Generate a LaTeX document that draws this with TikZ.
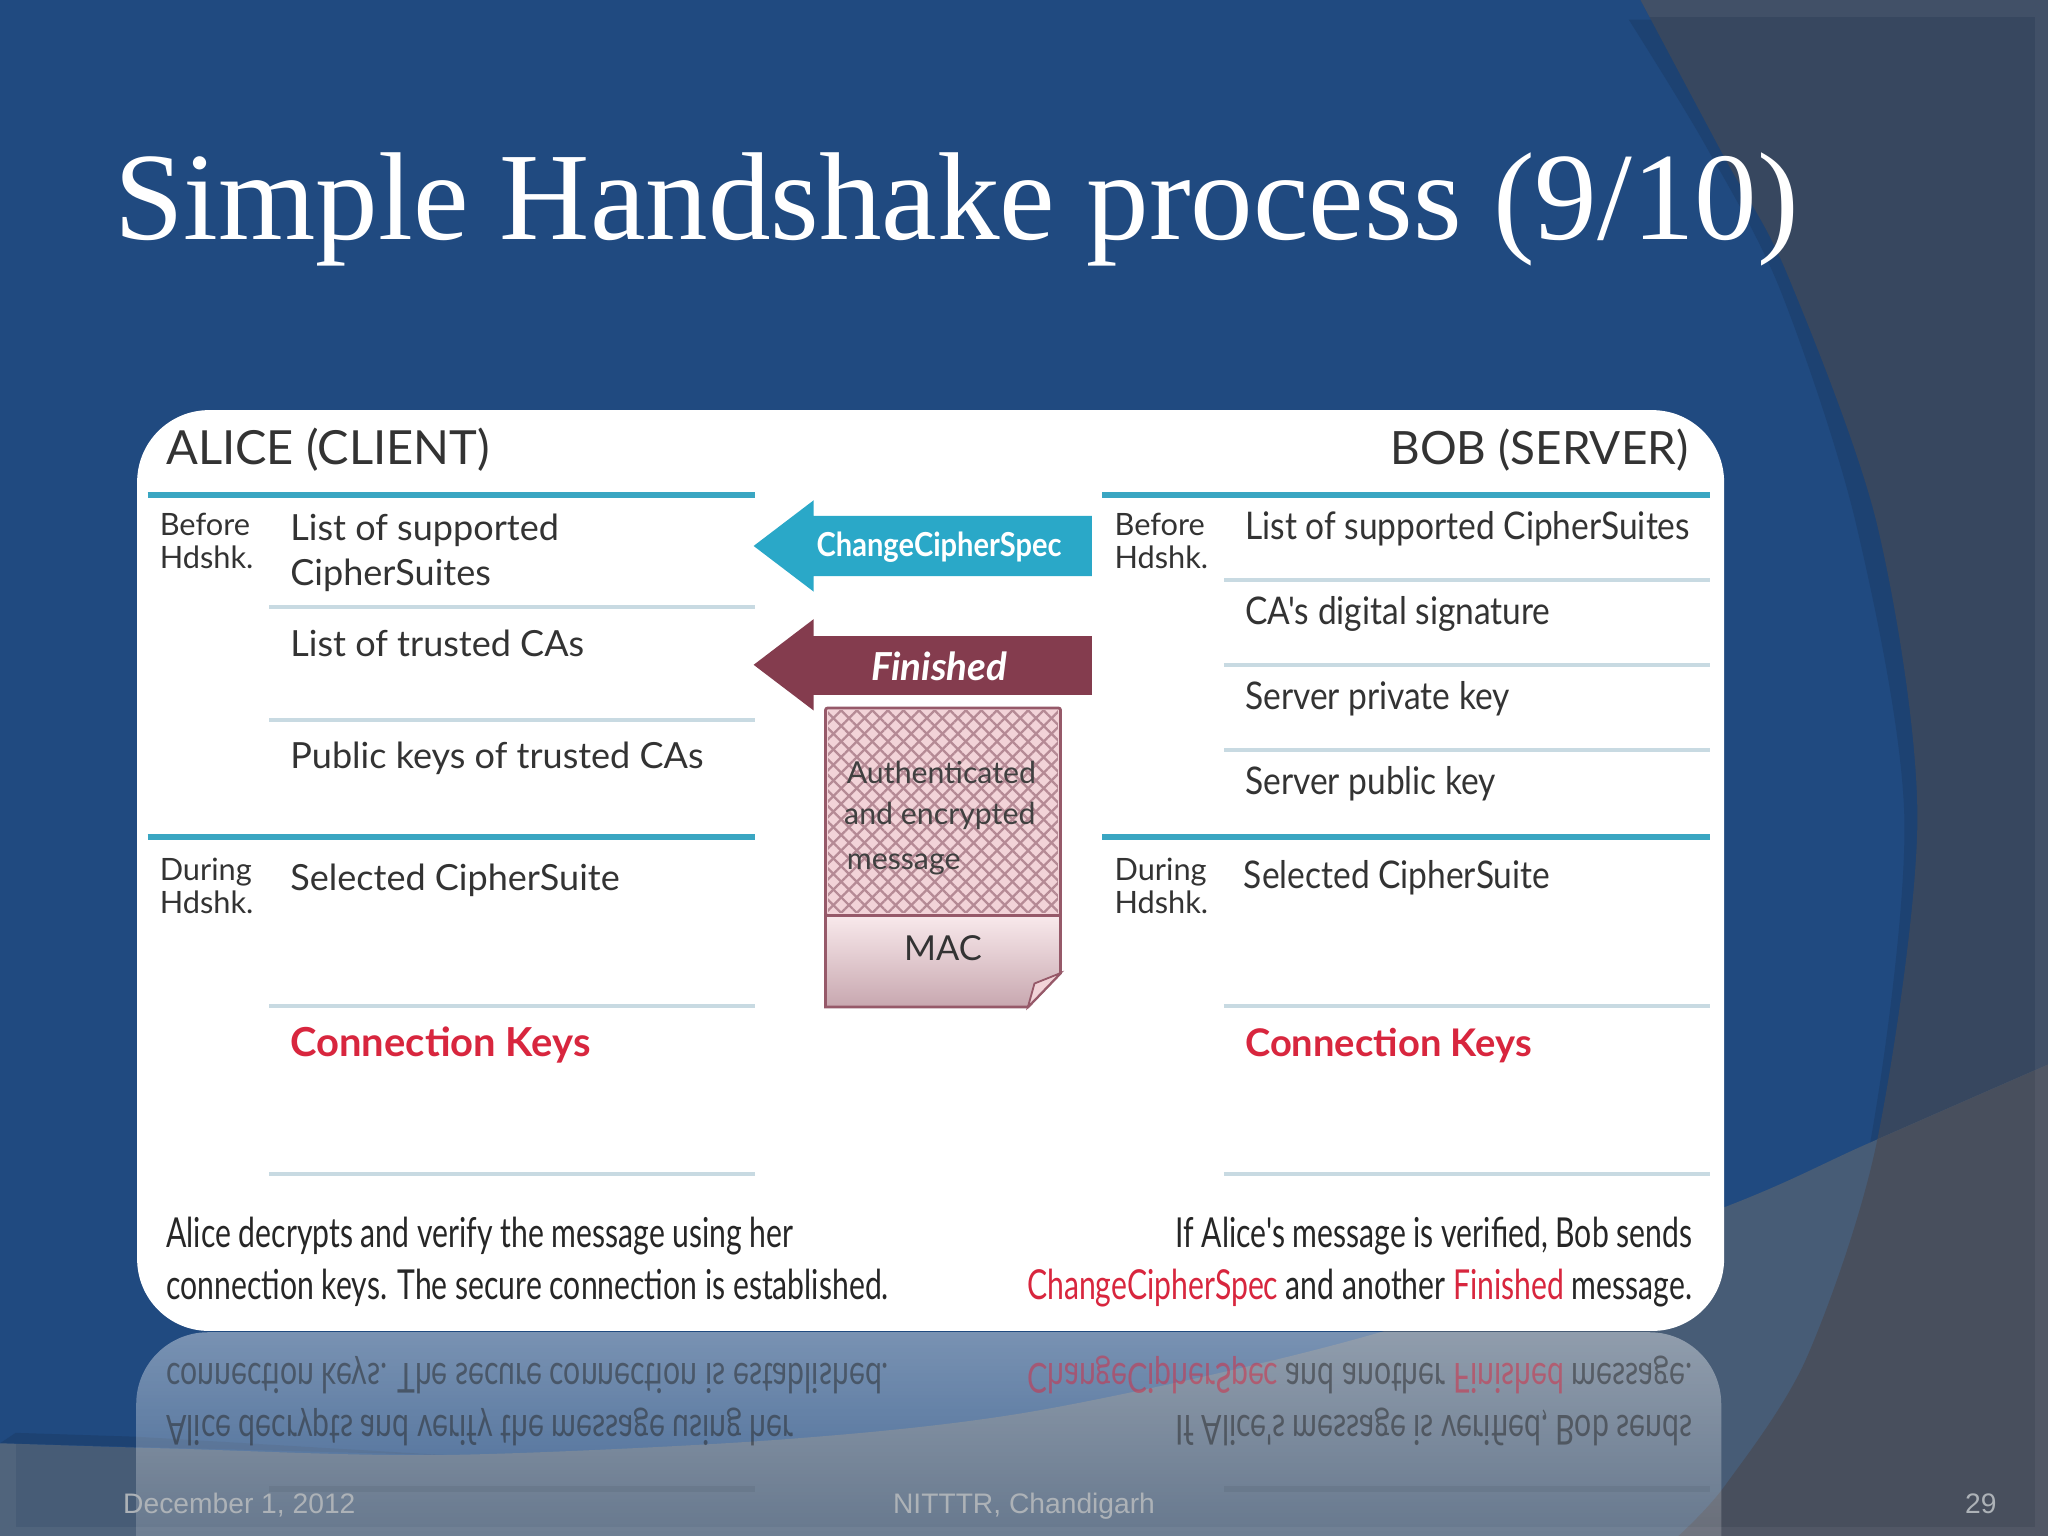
\documentclass[tikz,border=0pt]{standalone}
\usepackage{fontspec}
\setmainfont{Lato}
\newfontfamily\titlefont{Liberation Serif}
\newfontfamily\footfont{Liberation Sans}
\newfontfamily\narrowfont[FakeStretch=0.73]{Lato}
\newfontfamily\tightfont[FakeStretch=0.88]{Lato}
\usetikzlibrary{patterns.meta,fadings}
\definecolor{slideblue}{HTML}{204A80}
\definecolor{bandblue}{HTML}{1D4272}
\definecolor{panelgrey}{HTML}{37475F}
\definecolor{lowblue}{HTML}{475C76}
\definecolor{lowgrey}{HTML}{484F5D}
\definecolor{teal}{HTML}{3AA6C2}
\definecolor{arrowteal}{HTML}{2AA8C8}
\definecolor{thinrule}{HTML}{C8DAE2}
\definecolor{maroon}{HTML}{843C4E}
\definecolor{keyred}{HTML}{D8263E}
\definecolor{msgpink}{HTML}{F2D3D8}
\definecolor{footgrey}{HTML}{ADB2B7}
\tikzfading[name=reflectfade, top color=transparent!60, bottom color=transparent!93]
\tikzset{
  thickrule/.style={teal, line width=2.8pt},
  thinline/.style={thinrule, line width=1.8pt},
  head/.style={anchor=base, font=\fontsize{20}{20}\selectfont, text=black!80},
  small/.style={anchor=west, align=left, font=\fontsize{13.4}{14.5}\selectfont, text=black!80, inner sep=0pt},
  entry/.style={anchor=base west, font=\fontsize{15.7}{19.5}\selectfont, text=black!80, inner sep=0pt},
  bobentry/.style={anchor=base west, font=\tightfont\fontsize{16.6}{18}\selectfont, text=black!80, inner sep=0pt},
  redkey/.style={anchor=base west, font=\fontsize{16.6}{19}\bfseries\selectfont, text=keyred, inner sep=0pt},
  verdict/.style={font=\narrowfont\fontsize{18}{20}\selectfont, text=black!85, inner sep=0pt},
  foot/.style={anchor=base, font=\footfont\fontsize{12.3}{14}\selectfont, text=footgrey, inner sep=0pt},
  inner/.style={anchor=base west, font=\fontsize{13.2}{14}\selectfont, text=black!75, inner sep=0pt}
}
\newcommand{\greyregion}{plot[smooth] coordinates {(1256,0) (1320,120) (1368,209) (1437,401) (1468,626) (1437,874) (1383,1040) (1321,1137) (1285,1176)} -- (1568,1176) -- (1568,0) -- cycle}
\newcommand{\bandregion}{plot[smooth] coordinates {(1247,15) (1305,110) (1363,222) (1421,401) (1458,626) (1432,874) (1383,1040) (1321,1137) (1285,1176)} -- (1568,1176) -- (1568,15) -- cycle}
\newcommand{\lowregion}{plot[smooth] coordinates {(0,1105) (130,1109) (340,1114) (600,1102) (800,1079) (1060,1019) (1321,924) (1429,876) (1568,815)} -- (1568,1176) -- (0,1176) -- cycle}
% last text of the card, drawn twice because of the reflection
\newcommand{\verdicttext}{
  \draw[thinline] (206,899) -- (578,899);
  \draw[thinline] (937,899) -- (1309,899);
  \node[verdict, anchor=base west] (alicea) at (127,955) {Alice decrypts and verify the message using her};
  \node[verdict, anchor=base west] (aliceb) at (127,995) {connection keys. The secure connection is established.};
  \node[verdict, anchor=base east] (boba) at (1296,955) {If Alice's message is verified, Bob sends};
  \node[verdict, anchor=base east] (bobb) at (1296,995) {\textcolor{keyred}{ChangeCipherSpec} and another \textcolor{keyred}{Finished} message.};
}
\begin{document}
\begin{tikzpicture}[x=0.02cm, y=-0.02cm]
\useasboundingbox (0,0) rectangle (1568,1176);
% slide background
\fill[slideblue] (0,0) rectangle (1568,1176);
\fill[bandblue] \bandregion;
\fill[panelgrey] \greyregion;
\begin{scope}
\clip \greyregion;
\fill[white, opacity=0.05] (0,0) rectangle (1568,13);
\fill[white, opacity=0.05] (1558,13) rectangle (1568,1176);
\end{scope}
\fill[bandblue] (12,1097) -- (105,1100) -- (340,1114) -- (0,1105) -- cycle;
\fill[lowblue] \lowregion;
\begin{scope}
\clip \lowregion;
\fill[lowgrey] \greyregion;
\fill[white, opacity=0.05] (0,1105) rectangle (12,1176);
\fill[white, opacity=0.05] (12,1169) rectangle (1568,1176);
\fill[white, opacity=0.05] (1558,13) rectangle (1568,1169);
\end{scope}
% reflection under the card
\fill[white, path fading=reflectfade, rounded corners=1.1cm] (105,1250) -- (105,1020) -- (1320,1020) -- (1320,1250) -- cycle;
\begin{scope}[shift={(0,2039)}, yscale=-1, transform shape, every node/.append style={opacity=0.5}, thinline/.append style={black, line width=3pt, opacity=0.06}]
\verdicttext
\end{scope}
% title
\node[anchor=base west, inner sep=0pt, text=white, font=\titlefont\fontsize{54.5}{56}\selectfont] (title) at (87,183) {Simple Handshake process (9/10)};
% card
\fill[white, rounded corners=1.1cm] (105,314) rectangle (1320,1019);
\node[head, anchor=base west, inner sep=0pt, font=\fontsize{20.5}{20}\selectfont] (alice) at (127,356) {ALICE (CLIENT)};
\node[head, anchor=base east, inner sep=0pt] (bob) at (1293,356) {BOB (SERVER)};
\foreach \y in {379,641} {
  \draw[thickrule] (113,\y) -- (578,\y);
  \draw[thickrule] (844,\y) -- (1309,\y);
}
\foreach \y in {465,551,770}
  \draw[thinline] (206,\y) -- (578,\y);
\foreach \y in {444,509,574,770}
  \draw[thinline] (937,\y) -- (1309,\y);
% alice side
\node[small] (abefore) at (122,414) {Before\\Hdshk.};
\node[small] (aduring) at (122,678) {During\\Hdshk.};
\node[entry, anchor=west, align=left] (alist) at (222,423) {List of supported\\CipherSuites};
\node[entry] (atrust) at (222,503) {List of trusted CAs};
\node[entry] (apublic) at (222,588) {Public keys of trusted CAs};
\node[entry] (aselect) at (222,682) {Selected CipherSuite};
\node[redkey, font=\fontsize{17.4}{19}\bfseries\selectfont] (akeys) at (222,809) {Connection Keys};
% bob side
\node[small] (bbefore) at (853,414) {Before\\Hdshk.};
\node[small] (bduring) at (853,678) {During\\Hdshk.};
\node[bobentry] (blist) at (953,413) {List of supported CipherSuites};
\node[bobentry] (bdigital) at (953,478) {CA's digital signature};
\node[bobentry] (bprivate) at (953,543) {Server private key};
\node[bobentry] (bpublic) at (953,608) {Server public key};
\node[bobentry] (bselect) at (952,680) {Selected CipherSuite};
\node[redkey] (bkeys) at (953,809) {Connection Keys};
% arrows
\fill[arrowteal] (577,418) -- (623,383) -- (623,395) -- (836,395) -- (836,441) -- (623,441) -- (623,453) -- cycle;
\node[text=white, font=\tightfont\fontsize{14.4}{14}\bfseries\selectfont, inner sep=0pt] (ccs) at (719,419) {ChangeCipherSpec};
\fill[maroon] (577,509) -- (623,474) -- (623,487) -- (836,487) -- (836,532) -- (623,532) -- (623,544) -- cycle;
\node[text=white, font=\fontsize{16.8}{16}\bfseries\itshape\selectfont, inner sep=0pt] (fin) at (719,510) {Finished};
% message
\filldraw[fill=msgpink, draw=maroon!85, line width=1.2pt, rounded corners=1pt] (632,542) rectangle (812,701);
\fill[pattern={Lines[angle=45,distance=4.8pt,line width=1pt]}, pattern color=maroon!60] (634,544) rectangle (810,699);
\fill[pattern={Lines[angle=-45,distance=4.8pt,line width=1pt]}, pattern color=maroon!60] (634,544) rectangle (810,699);
\draw[top color=msgpink!50, bottom color=maroon!45, draw=maroon!85, line width=1.2pt] (632,701) -- (812,701) -- (812,745) -- (787,771) -- (632,771) -- cycle;
\filldraw[fill=msgpink, draw=maroon!85, line width=0.8pt] (787,771) -- (792,753) -- (812,745) -- cycle;
\node[inner] (msga) at (648,600) {Authenticated};
\node[inner] (msgb) at (646,631) {and encrypted};
\node[inner] (msgc) at (648,666) {message};
\node[font=\fontsize{15}{15}\selectfont, text=black!80, inner sep=0pt] (mac) at (722,726) {MAC};
% last lines of the card
\verdicttext
% footer
\node[foot, anchor=base west] (date) at (94,1159) {December 1, 2012};
\node[foot] (place) at (784,1159) {NITTTR, Chandigarh};
\node[foot, anchor=base east] (page) at (1529,1159) {29};
\end{tikzpicture}
\end{document}
